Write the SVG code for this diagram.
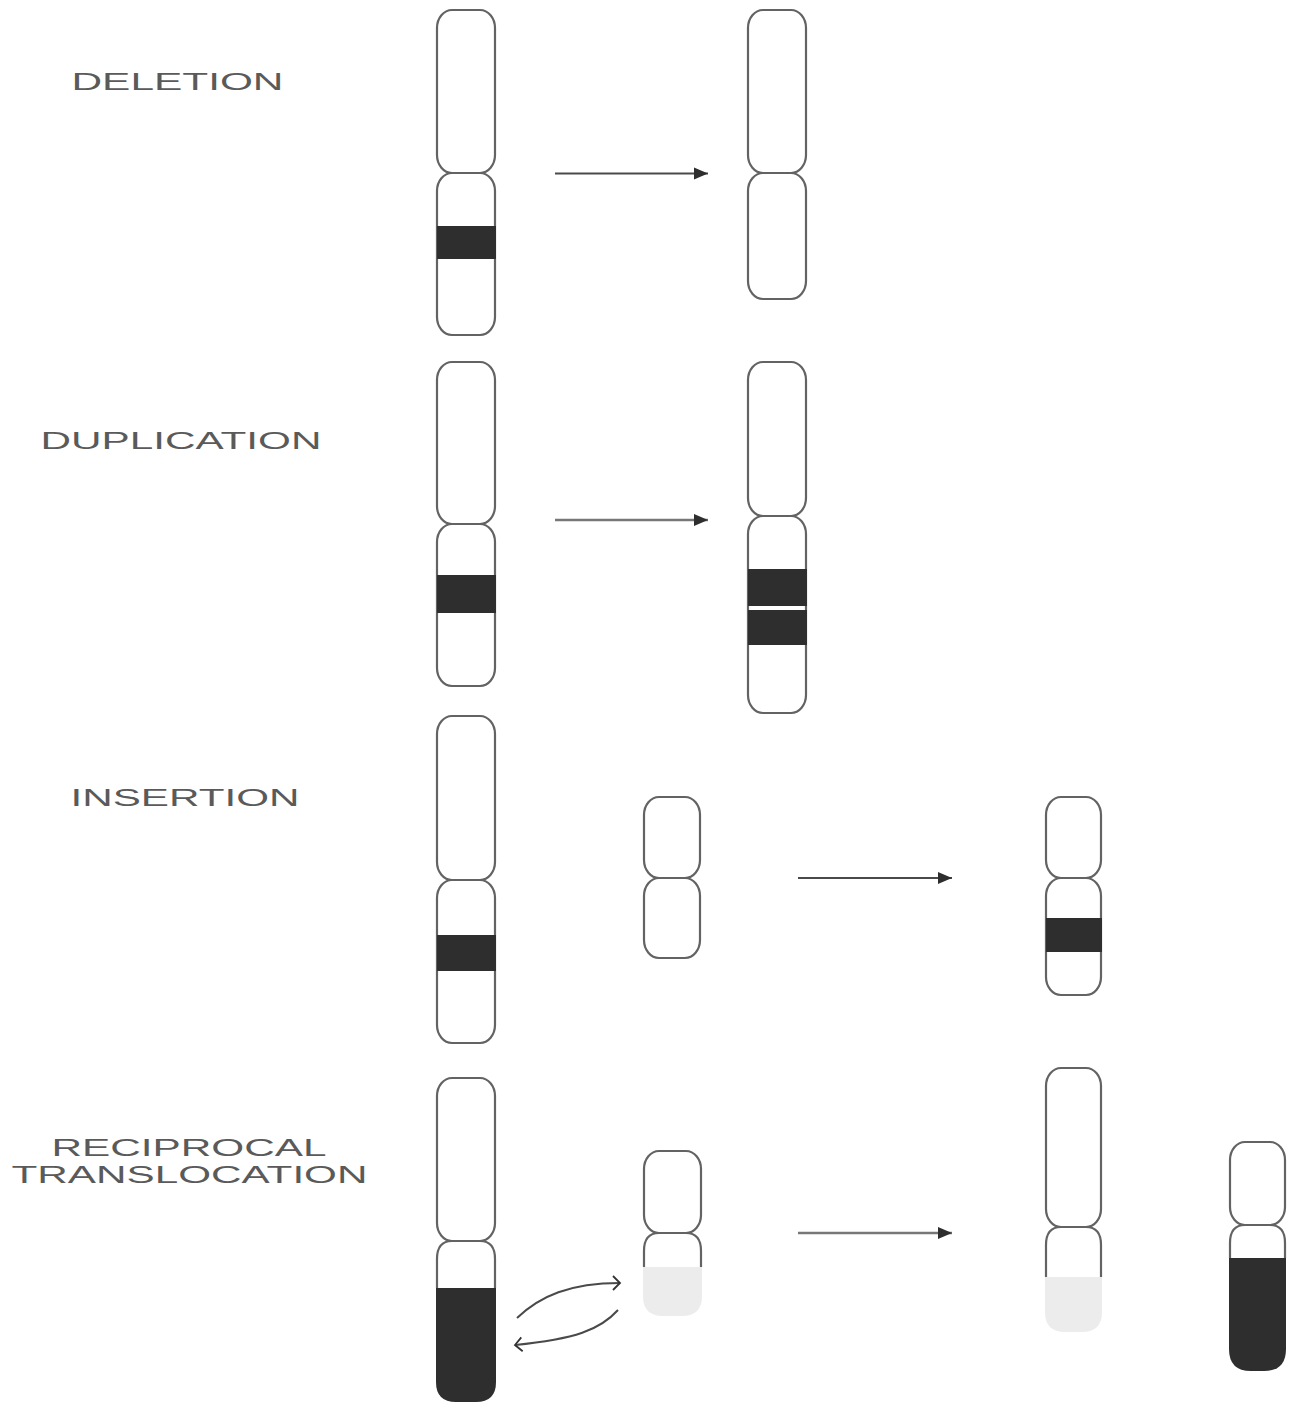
<svg xmlns="http://www.w3.org/2000/svg" width="1295" height="1403" viewBox="0 0 1295 1403">
  <style>
    .arm { fill: #fff; stroke: #636363; stroke-width: 2.2; }
    .dark { fill: #2e2e2e; }
    .pale { fill: #ececec; }
    .label { font-family: "Liberation Sans", Arial, sans-serif; font-size: 24px; fill: #5a5a5a; }
    .link { fill: none; stroke: #4a4a4a; stroke-width: 2; }
    .link.wide { stroke: #777; stroke-width: 2.6; }
    .swap { fill: none; stroke: #4a4a4a; stroke-width: 2; }
  </style>
  <defs>
    <marker id="head" markerUnits="userSpaceOnUse" markerWidth="16" markerHeight="14" refX="15" refY="7" orient="auto">
      <path d="M1 1 L15 7 L1 13 Z" fill="#2e2e2e"/>
    </marker>
    <marker id="barb" markerUnits="userSpaceOnUse" markerWidth="12" markerHeight="16" refX="10" refY="8" orient="auto">
      <path d="M3 1 L10 8 L3 15" fill="none" stroke="#333" stroke-width="1.8"/>
    </marker>
  </defs>
  <rect width="1295" height="1403" fill="#fff"/>

  <g id="labels">
    <text class="label" x="71.500" y="90" textLength="212" lengthAdjust="spacingAndGlyphs">DELETION</text>
    <text class="label" x="40.500" y="449" textLength="281" lengthAdjust="spacingAndGlyphs">DUPLICATION</text>
    <text class="label" x="70.500" y="806" textLength="229" lengthAdjust="spacingAndGlyphs">INSERTION</text>
    <text class="label" x="51.500" y="1156" textLength="275" lengthAdjust="spacingAndGlyphs">RECIPROCAL</text>
    <text class="label" x="11.500" y="1183" textLength="356" lengthAdjust="spacingAndGlyphs">TRANSLOCATION</text>
  </g>

  <g id="deletion-before">
    <rect class="arm" x="437" y="173" width="58" height="162" rx="15" ry="18"/>
    <rect class="arm" x="437" y="10" width="58" height="163" rx="15" ry="18"/>
    <rect class="dark" x="437" y="226" width="59" height="33"/>
  </g>
  <g id="deletion-after">
    <rect class="arm" x="748" y="173" width="58" height="126" rx="15" ry="18"/>
    <rect class="arm" x="748" y="10" width="58" height="163" rx="15" ry="18"/>
  </g>

  <g id="duplication-before">
    <rect class="arm" x="437" y="524" width="58" height="162" rx="15" ry="18"/>
    <rect class="arm" x="437" y="362" width="58" height="162" rx="15" ry="18"/>
    <rect class="dark" x="437" y="575" width="59" height="38"/>
  </g>
  <g id="duplication-after">
    <rect class="arm" x="748" y="516" width="58" height="197" rx="15" ry="18"/>
    <rect class="arm" x="748" y="362" width="58" height="154" rx="15" ry="18"/>
    <rect class="dark" x="748" y="569" width="59" height="37"/>
    <rect class="dark" x="748" y="610" width="59" height="35"/>
  </g>

  <g id="insertion-host">
    <rect class="arm" x="437" y="880" width="58" height="163" rx="15" ry="18"/>
    <rect class="arm" x="437" y="716" width="58" height="164" rx="15" ry="18"/>
    <rect class="dark" x="437" y="935" width="59" height="36"/>
  </g>
  <g id="insertion-recipient">
    <rect class="arm" x="644" y="878" width="56" height="80" rx="15" ry="18"/>
    <rect class="arm" x="644" y="797" width="56" height="81" rx="15" ry="18"/>
  </g>
  <g id="insertion-result">
    <rect class="arm" x="1046" y="878" width="55" height="117" rx="15" ry="18"/>
    <rect class="arm" x="1046" y="797" width="55" height="81" rx="15" ry="18"/>
    <rect class="dark" x="1046" y="918" width="56" height="34"/>
  </g>

  <g id="translocation-long">
    <path class="arm" d="M437 1288 V1259 Q437 1241 452 1241 H480 Q495 1241 495 1259 V1288"/>
    <rect class="arm" x="437" y="1078" width="58" height="163" rx="15" ry="18"/>
    <path class="dark" d="M436 1288 H496 V1382 Q496 1402 476 1402 H456 Q436 1402 436 1382 Z"/>
  </g>
  <g id="translocation-short">
    <path class="arm" d="M644 1267 V1251 Q644 1233 659 1233 H686 Q701 1233 701 1251 V1267"/>
    <rect class="arm" x="644" y="1151" width="57" height="82" rx="15" ry="18"/>
    <path class="pale" d="M643 1267 H702 V1296 Q702 1316 682 1316 H663 Q643 1316 643 1296 Z"/>
  </g>
  <g id="translocation-result-long">
    <path class="arm" d="M1046 1277 V1245 Q1046 1227 1061 1227 H1086 Q1101 1227 1101 1245 V1277"/>
    <rect class="arm" x="1046" y="1068" width="55" height="159" rx="15" ry="18"/>
    <path class="pale" d="M1045 1277 H1102 V1312 Q1102 1332 1082 1332 H1065 Q1045 1332 1045 1312 Z"/>
  </g>
  <g id="translocation-result-short">
    <path class="arm" d="M1230 1258 V1243 Q1230 1225 1245 1225 H1270 Q1285 1225 1285 1243 V1258"/>
    <rect class="arm" x="1230" y="1142" width="55" height="83" rx="15" ry="18"/>
    <path class="dark" d="M1229 1258 H1286 V1349 Q1286 1371 1264 1371 H1251 Q1229 1371 1229 1349 Z"/>
  </g>

  <g id="connectors">
    <line class="link" x1="555" y1="173.500" x2="708" y2="173.500" marker-end="url(#head)"/>
    <line class="link wide" x1="555" y1="520" x2="708" y2="520" marker-end="url(#head)"/>
    <line class="link" x1="798" y1="878" x2="952" y2="878" marker-end="url(#head)"/>
    <line class="link wide" x1="798" y1="1233" x2="952" y2="1233" marker-end="url(#head)"/>
    <path class="swap" d="M517 1318 C540 1296 570 1283 620 1283" marker-end="url(#barb)"/>
    <path class="swap" d="M618 1310 C600 1330 575 1339 515 1345" marker-end="url(#barb)"/>
  </g>
</svg>
